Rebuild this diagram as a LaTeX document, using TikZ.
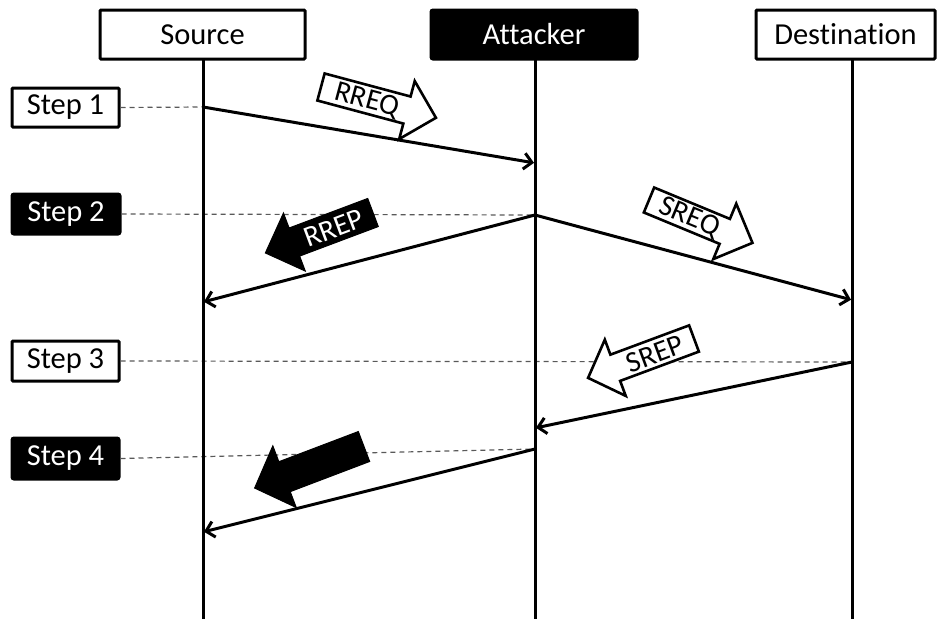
\documentclass[tikz,border=0pt]{standalone}
\usepackage{fontspec}
\setmainfont{Carlito}[Ligatures={NoCommon}]
\usetikzlibrary{arrows.meta}
\begin{document}
\begin{tikzpicture}[x=1pt,y=-1pt,
  wbox/.style={draw=black, line width=3pt, fill=white, rounded corners=1pt, font=\fontsize{30.5}{34}\selectfont, text=black, inner sep=0pt},
  bbox/.style={draw=black, line width=3pt, fill=black, rounded corners=2pt, font=\fontsize{30.5}{34}\selectfont, text=white, inner sep=0pt},
  life/.style={line width=3pt},
  msg/.style={line width=3pt, shorten >=1pt, -{Straight Barb[length=8pt,width=16pt]}},
  stepline/.style={dash pattern=on 5pt off 4pt, line width=1.2pt, black!65},
  warr/.style={draw=black, line width=2.6pt, fill=white, line join=miter},
  barr/.style={draw=black, line width=1pt, fill=black, line join=miter},
  atxt/.style={font=\fontsize{29.5}{32}\selectfont, transform shape, inner sep=0pt}]

\useasboundingbox (0,0) rectangle (939,619);

% lifeline coordinates
\coordinate (stop) at (203,60);   \coordinate (sbot) at (203,619);
\coordinate (atop) at (535,60);   \coordinate (abot) at (535,619);
\coordinate (dtop) at (852,60);   \coordinate (dbot) at (852,619);

% message points
\coordinate (s1) at (203,107);
\coordinate (a1) at (535,163);
\coordinate (a2) at (535,215);
\coordinate (s2) at (203,302);
\coordinate (d2) at (852,300);
\coordinate (d3) at (852,362);
\coordinate (a3) at (535,428);
\coordinate (a4) at (535,449);
\coordinate (s4) at (203,532);

% step labels
\node[wbox, minimum width=107pt, minimum height=39pt] (step1) at (65.5,107.5) {Step 1};
\node[bbox, minimum width=108pt, minimum height=40pt] (step2) at (66,214) {Step 2};
\node[wbox, minimum width=107pt, minimum height=40pt] (step3) at (65.5,361) {Step 3};
\node[bbox, minimum width=107pt, minimum height=41pt] (step4) at (65.5,458.5) {Step 4};

% dashed step lines
\draw[stepline] (step1.east) -- (s1);
\draw[stepline] (step2.east) -- (a2);
\draw[stepline] (step3.east) -- (d3);
\draw[stepline] (step4.east) -- (a4);

% lifelines
\draw[life] (stop) -- (sbot);
\draw[life] (atop) -- (abot);
\draw[life] (dtop) -- (dbot);

% header boxes
\node[wbox, minimum width=205pt, minimum height=49pt] (src) at (202.5,34.5) {Source};
\node[bbox, minimum width=206pt, minimum height=49pt] (att) at (534,34.5) {Attacker};
\node[wbox, minimum width=179pt, minimum height=49pt] (dst) at (845.5,34.5) {Destination};

% block arrows
\begin{scope}[shift={(321,87)}, rotate=-15]
  \draw[warr] (0,-14) -- (89,-14) -- (89,-30) -- (119,0) -- (89,30) -- (89,14) -- (0,14) -- cycle;
  \node[atxt, text=black] (rreq) at (48,1) {RREQ};
\end{scope}
\begin{scope}[shift={(373,212.5)}, rotate=20.6]
  \draw[barr] (0,-15) -- (-84,-15) -- (-84,-31) -- (-115,0) -- (-84,31) -- (-84,15) -- (0,15) -- cycle;
  \node[atxt, text=white] (rrep) at (-42,1) {RREP};
\end{scope}
\begin{scope}[shift={(649,200)}, rotate=-22.5]
  \draw[warr] (0,-13.5) -- (82,-13.5) -- (82,-30) -- (112,0) -- (82,30) -- (82,13.5) -- (0,13.5) -- cycle;
  \node[atxt, text=black] (sreq) at (44,1) {SREQ};
\end{scope}
\begin{scope}[shift={(694,338.5)}, rotate=20.4]
  \draw[warr] (0,-14) -- (-84,-14) -- (-84,-30) -- (-113,0) -- (-84,30) -- (-84,14) -- (0,14) -- cycle;
  \node[atxt, text=black] (srep) at (-42,1) {SREP};
\end{scope}
\begin{scope}[shift={(364,446.5)}, rotate=20.8]
  \draw[barr] (0,-16) -- (-85,-16) -- (-85,-33) -- (-117,0) -- (-85,33) -- (-85,16) -- (0,16) -- cycle;
  \coordinate (blk) at (-42,0);
\end{scope}

% messages
\draw[msg] (s1) -- (a1);
\draw[msg] (a2) -- (s2);
\draw[msg] (a2) -- (d2);
\draw[msg] (d3) -- (a3);
\draw[msg] (a4) -- (s4);
\end{tikzpicture}
\end{document}
